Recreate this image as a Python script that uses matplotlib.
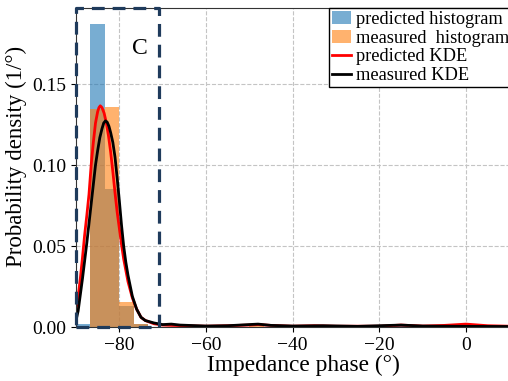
import numpy as np
import matplotlib
matplotlib.use('Agg')
import matplotlib.pyplot as plt

plt.rcParams['font.family'] = 'serif'
plt.rcParams['font.serif'] = ['Liberation Serif', 'DejaVu Serif']

# histogram bins (30 bins over -90..10 degrees)
bin_edges = np.linspace(-90, 10, 31)
pred_hist = [0.002, 0.187, 0.085, 0.013, 0.002, 0, 0, 0, 0, 0,
             0, 0, 0, 0, 0, 0, 0, 0, 0, 0,
             0, 0, 0.0018, 0, 0, 0, 0, 0, 0, 0]
meas_hist = [0, 0.1346, 0.1358, 0.0156, 0.002, 0, 0, 0, 0, 0,
             0, 0, 0.0018, 0, 0, 0, 0, 0, 0, 0,
             0, 0, 0, 0, 0, 0, 0, 0, 0, 0]

# KDE curves
pred_kde_x = [-90, -89.5, -89, -88.5, -88, -87.5, -87, -86.5, -86, -85.5, -85, -84.7, -84.4,
              -84, -83.5, -83, -82.5, -82, -81.5, -81, -80.5, -80, -79.5, -79, -78.5, -78,
              -77, -76, -75, -74, -72, -70, -68, -65, -60, -55, -50, -48, -45, -40,
              -35, -30, -20, -15, -10, -5, 0, 5, 10, 15]
pred_kde_y = [0.011, 0.019, 0.03, 0.043, 0.057, 0.069, 0.082, 0.1, 0.114, 0.126, 0.133,
              0.1355, 0.1366, 0.1355, 0.132, 0.126, 0.118, 0.108, 0.096, 0.083, 0.071,
              0.061, 0.051, 0.042, 0.035, 0.028, 0.018, 0.011, 0.006, 0.004, 0.002,
              0.0012, 0.001, 0.0008, 0.0005, 0.0008, 0.0012, 0.0015, 0.001, 0.0005,
              0.0008, 0.0005, 0.0005, 0.0012, 0.0006, 0.001, 0.0018, 0.0008, 0.0005, 0.0003]
meas_kde_x = [-90, -89.5, -89, -88.5, -88, -87.5, -87, -86.5, -86, -85.5, -85, -84.5, -84,
              -83.6, -83.2, -82.8, -82.4, -82, -81.5, -81, -80.5, -80, -79.5, -79, -78.5,
              -78, -77, -76, -75, -74, -72, -70, -68, -66, -60, -55, -48, -45, -40, -33,
              -25, -15, -10, 0, 10, 15]
meas_kde_y = [0.004, 0.01, 0.02, 0.03, 0.041, 0.052, 0.064, 0.076, 0.088, 0.1, 0.109,
              0.117, 0.1225, 0.126, 0.1273, 0.1265, 0.124, 0.12, 0.114, 0.105, 0.092,
              0.078, 0.063, 0.05, 0.04, 0.032, 0.019, 0.011, 0.006, 0.004, 0.0025,
              0.0015, 0.0018, 0.0012, 0.0006, 0.0008, 0.0018, 0.001, 0.0006, 0.0008,
              0.0004, 0.0012, 0.0006, 0.0004, 0.0003, 0.0003]

fig = plt.figure(figsize=(5.08, 3.81), dpi=100)
# axes run past the right edge of the picture (the original was cropped)
ax = fig.add_axes([76 / 508, 0.1417, 455 / 508, 0.8373])

widths = np.diff(bin_edges)
h1 = ax.bar(bin_edges[:-1], pred_hist, width=widths, align='edge', color='C0', alpha=0.6)
h2 = ax.bar(bin_edges[:-1], meas_hist, width=widths, align='edge', color='C1', alpha=0.6)
l1, = ax.plot(pred_kde_x, pred_kde_y, color='red', lw=2)
l2, = ax.plot(meas_kde_x, meas_kde_y, color='black', lw=2)

ax.set_xlim(-90, 15)
ax.set_ylim(0, 0.197)
ax.set_xticks([-80, -60, -40, -20, 0])
ax.set_yticks([0, 0.05, 0.10, 0.15])
ax.set_yticklabels(['0.00', '0.05', '0.10', '0.15'])
ax.grid(True, ls='--', color='#c4c4c4', lw=0.8)
ax.set_axisbelow(True)
ax.tick_params(labelsize=14)
for s in ax.spines.values():
    s.set_color('#333333')

# region C
ax.plot([-90, -70.8, -70.8, -90, -90], [0, 0, 0.197, 0.197, 0], ls=(0, (4, 2.5)),
        color='#1f3b5c', lw=2.3, clip_on=False, zorder=5)
ax.text(-75.3, 0.172, 'C', fontsize=17, ha='center', va='center')

ax.set_xlabel('Impedance phase (°)', fontsize=16.8, labelpad=1)
ax.set_ylabel('Probability density (1/°)', fontsize=16.5)
ax.yaxis.set_label_coords(-0.107, 0.535)

fig.legend([h1, h2, l1, l2],
           ['predicted histogram', 'measured  histogram', 'predicted KDE', 'measured KDE'],
           loc='upper left', bbox_to_anchor=(329 / 508, 1 - 8 / 381), borderaxespad=0,
           fontsize=13.2, fancybox=False, edgecolor='black', framealpha=1,
           handlelength=1.05, handletextpad=0.25, labelspacing=0.1, borderpad=0.15)

fig.savefig('out.png', dpi=100)
